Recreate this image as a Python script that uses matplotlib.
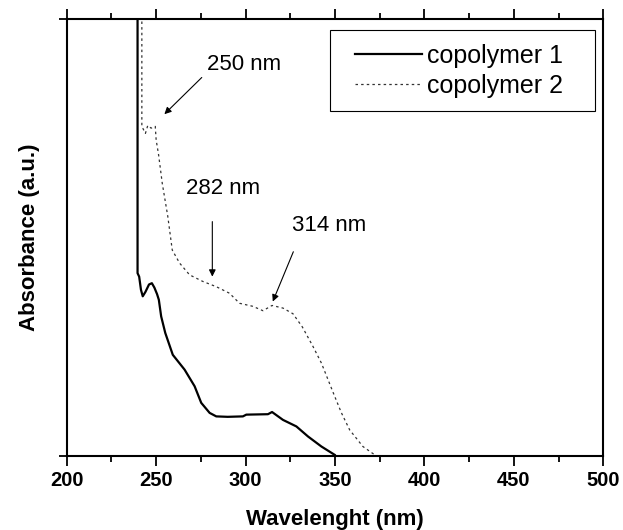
import matplotlib
matplotlib.use("Agg")
import matplotlib.pyplot as plt
from matplotlib.patches import Rectangle
from matplotlib.ticker import MultipleLocator

plt.rcParams["font.family"] = ["Liberation Sans", "DejaVu Sans"]

# copolymer 1 (solid), wavelength in nm and absorbance in arbitrary units
wl1 = [239.6, 239.6, 240.5, 241.5, 242.5, 244.0, 246.0, 247.6, 249.0, 250.5,
       251.5, 252.8, 255.1, 259.3, 265.9, 271.5, 275.2, 279.9, 283.6, 290.0,
       298.5, 300.4, 312.5, 314.8, 320.9, 328.4, 334.9, 342.4, 349.8]
abs1 = [1.10, 0.418, 0.41, 0.38, 0.365, 0.375, 0.392, 0.395, 0.385, 0.37,
        0.357, 0.319, 0.281, 0.231, 0.197, 0.159, 0.121, 0.098, 0.090, 0.089,
        0.090, 0.094, 0.095, 0.100, 0.082, 0.067, 0.044, 0.021, 0.002]

# copolymer 2 (dotted)
wl2 = [242.0, 242.0, 244.0, 245.3, 247.2, 249.5, 250.0, 251.4, 253.4, 256.5,
       259.0, 263.1, 268.7, 276.1, 283.6, 291.0, 296.6, 304.1, 309.7, 314.8,
       320.9, 326.5, 331.7, 337.7, 342.4, 346.1, 349.8, 353.6, 358.2, 365.6,
       372.2]
abs2 = [1.10, 0.754, 0.738, 0.756, 0.750, 0.754, 0.723, 0.688, 0.624, 0.548,
        0.471, 0.441, 0.414, 0.399, 0.387, 0.372, 0.349, 0.342, 0.332, 0.344,
        0.338, 0.325, 0.295, 0.250, 0.212, 0.174, 0.136, 0.098, 0.059, 0.021,
        0.002]

labels = ["copolymer 1", "copolymer 2"]

# peak annotations: text, text position, arrow tail, arrow head
peak_text = ["250 nm", "282 nm", "314 nm"]
text_pos = [(278.6, 0.895), (287.5, 0.612), (325.8, 0.526)]
text_ha = ["left", "center", "left"]
arrow_tail = [(275.5, 0.866), (281.4, 0.536), (326.7, 0.467)]
arrow_head = [(254.6, 0.782), (281.4, 0.410), (315.2, 0.353)]

fig = plt.figure(figsize=(6.23, 5.30), dpi=100)
ax = fig.add_axes([0.1071, 0.1402, 0.8613, 0.8240])

ax.plot(wl1, abs1, color="black", lw=1.6, label=labels[0])
ax.plot(wl2, abs2, color="#333333", lw=0.9, linestyle=(0, (2, 2.5)),
        label=labels[1])

for t, tp, ha, tail, head in zip(peak_text, text_pos, text_ha, arrow_tail, arrow_head):
    ax.text(tp[0], tp[1], t, ha=ha, va="center", fontsize=16)
    ax.annotate("", xy=head, xytext=tail,
                arrowprops=dict(arrowstyle="-|>", color="black", lw=0.8,
                                mutation_scale=10, shrinkA=0, shrinkB=0))

ax.set_xlim(200, 500)
ax.set_ylim(0, 1)
ax.xaxis.set_major_locator(MultipleLocator(50))
ax.xaxis.set_minor_locator(MultipleLocator(25))
# only the two end ticks on the left, no labels (Origin style corners)
ax.set_yticks([0, 1])
ax.tick_params(axis="y", direction="out", length=6, width=1.3, labelleft=False)
ax.tick_params(axis="x", which="both", direction="out", top=True, bottom=True,
               width=1.3, labelsize=14.5, pad=4)
ax.tick_params(axis="x", which="major", length=7)
ax.tick_params(axis="x", which="minor", length=4.5)
for lab in ax.get_xticklabels():
    lab.set_fontweight("bold")
for s in ax.spines.values():
    s.set_linewidth(1.5)

ax.set_xlabel("Wavelenght (nm)", fontsize=16, fontweight="bold", labelpad=14)
ax.set_ylabel("Absorbance (a.u.)", fontsize=16, fontweight="bold", labelpad=13)

# legend box is wider than the default padding allows, so draw it separately
ax.add_patch(Rectangle((0.4907, 0.7893), 0.4938, 0.1855, transform=ax.transAxes,
                       facecolor="white", edgecolor="black", lw=0.8, zorder=3))
ax.legend(loc="center left", bbox_to_anchor=(0.5373, 0.8813), fontsize=18,
          frameon=False, handlelength=2.68, handletextpad=0.2,
          labelspacing=0.25, borderpad=0, borderaxespad=0)

fig.savefig("out.png", dpi=100)
